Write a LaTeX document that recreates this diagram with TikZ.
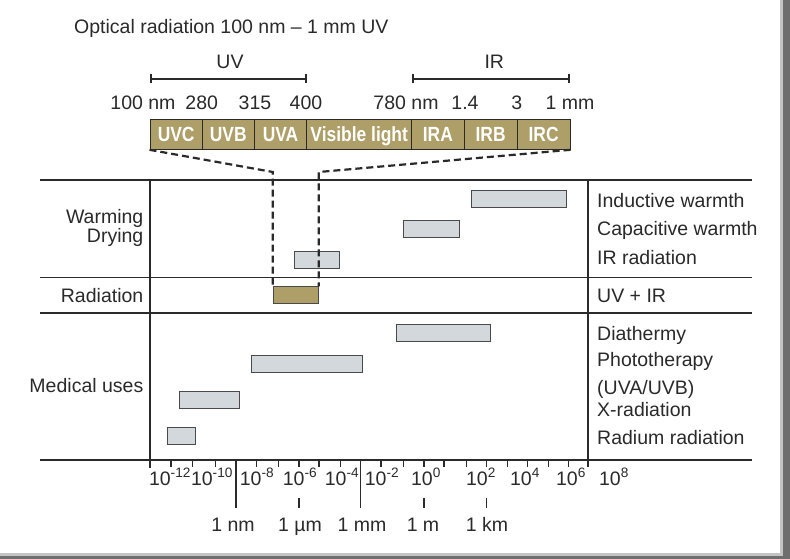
\documentclass[tikz,border=0pt]{standalone}
\usepackage{fontspec}
\setmainfont{Liberation Sans}
\newfontfamily\bandfont[FakeStretch=0.85]{Liberation Sans}
\usetikzlibrary{arrows.meta,positioning}
\definecolor{bandgold}{HTML}{AE9F68}
\definecolor{bargray}{HTML}{D2D8DC}
\definecolor{inkgray}{HTML}{2A2A2A}
\definecolor{framedark}{HTML}{6E6E6E}
\definecolor{framelight}{HTML}{C4C4C4}

\begin{document}
\begin{tikzpicture}[x=1pt,y=-1pt,
  txt/.style={inner sep=0pt,anchor=base,text=inkgray,
    font=\fontsize{19.5}{22}\selectfont},
  bandcell/.style={draw=inkgray,fill=bandgold,line width=1pt,inner sep=0pt,
    minimum height=29.3pt,text height=14.5pt,text depth=0pt,text=white,
    font=\bandfont\fontsize{20.5}{22}\selectfont\bfseries},
  usebar/.style={draw=inkgray!85,fill=bargray,line width=1pt,inner sep=0pt,
    minimum height=17pt},
  radbar/.style={usebar,fill=bandgold},
  thickrule/.style={line width=2.2pt,inkgray},
  thinrule/.style={line width=1.1pt,inkgray},
  zoomline/.style={line width=2.2pt,dash pattern=on 7pt off 4pt,inkgray},
  rangebar/.style={line width=2.2pt,inkgray,{Bar[width=9pt]}-{Bar[width=9pt]}},
  axtick/.style={line width=1.1pt,inkgray}]
  \useasboundingbox (0,0) rectangle (790,559);
  % frame
  \fill[white] (0,0) rectangle (790,559);
  \fill[framedark] (782.5,0) rectangle (790,559);
  \fill[framedark] (0,555.5) rectangle (790,559);
  \fill[framelight] (780,0) rectangle (782.5,555.5);
  \fill[framelight] (0,553) rectangle (782.5,555.5);
  % spectrum band
  \node[txt,anchor=base west] (title) at (74,33.3)
    {Optical radiation 100 nm – 1 mm UV};
  \coordinate (uvL) at (150,79);
  \coordinate (uvR) at (307.3,79);
  \coordinate (irL) at (411.7,79);
  \coordinate (irR) at (570,79);
  \draw[rangebar] (uvL) -- (uvR);
  \draw[rangebar] (irL) -- (irR);
  \node[txt] (uvlab) at (230,68.3) {UV};
  \node[txt] (irlab) at (494.3,68.3) {IR};
  \foreach \x/\t [count=\i] in {143/100 nm,201.7/280,255/315,306/400,
      406/780 nm,465/1.4,516.7/3,570/1 mm}
    \node[txt] (wl\i) at (\x,109.3) {\t};
  \node[bandcell,minimum width=52.3pt] (uvc) at (176.15,134.65) {UVC};
  \node[bandcell,minimum width=52pt] (uvb) at (228.3,134.65) {UVB};
  \node[bandcell,minimum width=52.4pt] (uva) at (280.5,134.65) {UVA};
  \node[bandcell,minimum width=105pt] (vis) at (359.2,134.65) {Visible light};
  \node[bandcell,minimum width=52.3pt] (ira) at (437.85,134.65) {IRA};
  \node[bandcell,minimum width=53.3pt] (irb) at (490.65,134.65) {IRB};
  \node[bandcell,minimum width=52.7pt] (irc) at (543.65,134.65) {IRC};
  % table rules
  \draw[thickrule] (40,180) -- (751.5,180);
  \draw[thinrule] (40,277.5) -- (751.5,277.5);
  \draw[thickrule] (40,313) -- (751.5,313);
  \draw[thickrule] (40,460) -- (751.5,460);
  \draw[thinrule] (150,180) -- (150,468);
  \draw[thinrule] (588,180) -- (588,467);
  % row labels
  \node[txt,anchor=base east] (warm) at (143.5,223.3) {Warming};
  \node[txt,anchor=base east] (dry) at (143.5,242.7) {Drying};
  \node[txt,anchor=base east] (radl) at (143.5,302.7) {Radiation};
  \node[txt,anchor=base east] (med) at (143.5,392.3) {Medical uses};
  \node[txt,anchor=base west] (indl) at (597,207.3) {Inductive warmth};
  \node[txt,anchor=base west] (capl) at (597,235.7) {Capacitive warmth};
  \node[txt,anchor=base west] (irrl) at (597,264) {IR radiation};
  \node[txt,anchor=base west] (uvirl) at (597,302.7) {UV + IR};
  \node[txt,anchor=base west] (diathl) at (597,340.7) {Diathermy};
  \node[txt,anchor=base west] (phol) at (597,366.7) {Phototherapy};
  \node[txt,anchor=base west] (uvbl) at (597,394) {(UVA/UVB)};
  \node[txt,anchor=base west] (xrl) at (597,416.7) {X-radiation};
  \node[txt,anchor=base west] (radiuml) at (597,444) {Radium radiation};
  % ranges
  \node[usebar,minimum width=95pt] (induct) at (519.2,199.2) {};
  \node[usebar,minimum width=55.7pt] (capac) at (431.15,228.65) {};
  \node[usebar,minimum width=45.3pt] (irrad) at (316.65,259.85) {};
  \node[radbar,minimum width=45pt] (rad) at (295.8,295.35) {};
  \node[usebar,minimum width=93.3pt] (diath) at (443.35,333.15) {};
  \node[usebar,minimum width=111pt] (photo) at (306.5,364.2) {};
  \node[usebar,minimum width=60.3pt] (xray) at (209.15,400.35) {};
  \node[usebar,minimum width=28pt] (radium) at (181.3,435.65) {};
  \draw[zoomline] (uvc.south west) -- (rad.north west |- 0,172) -- (rad.north west);
  \draw[zoomline] (irc.south east) -- (rad.north east |- 0,172) -- (rad.north east);
  % scale
  \foreach \x in {150,171,192.7,215.3,236,256.7,278.3,299,319,340.7,360.7,381,
      403.3,424,444,466.7,486.7,507.3,527.7,548.3,568.3,587.7}
    \draw[axtick] (\x,460) -- (\x,467);
  \foreach \x in {236,360.7}
    \draw[axtick] (\x,460) -- (\x,508);
  \foreach \x in {299,424,486.7}
    \draw[axtick] (\x,498) -- (\x,508);
  \foreach \x/\e [count=\i] in {170/-12,212/-10,257/-8,300/-6,342/-4,382/-2,
      426/0,481/2,525/4,571/6,614/8}
    \node[txt] (exp\i) at (\x,485) {10\textsuperscript{\e}};
  \foreach \x/\t [count=\i] in {233/1 nm,300/1 µm,362/1 mm,423/1 m,487/1 km}
    \node[txt] (unit\i) at (\x,531) {\t};
\end{tikzpicture}
\end{document}
